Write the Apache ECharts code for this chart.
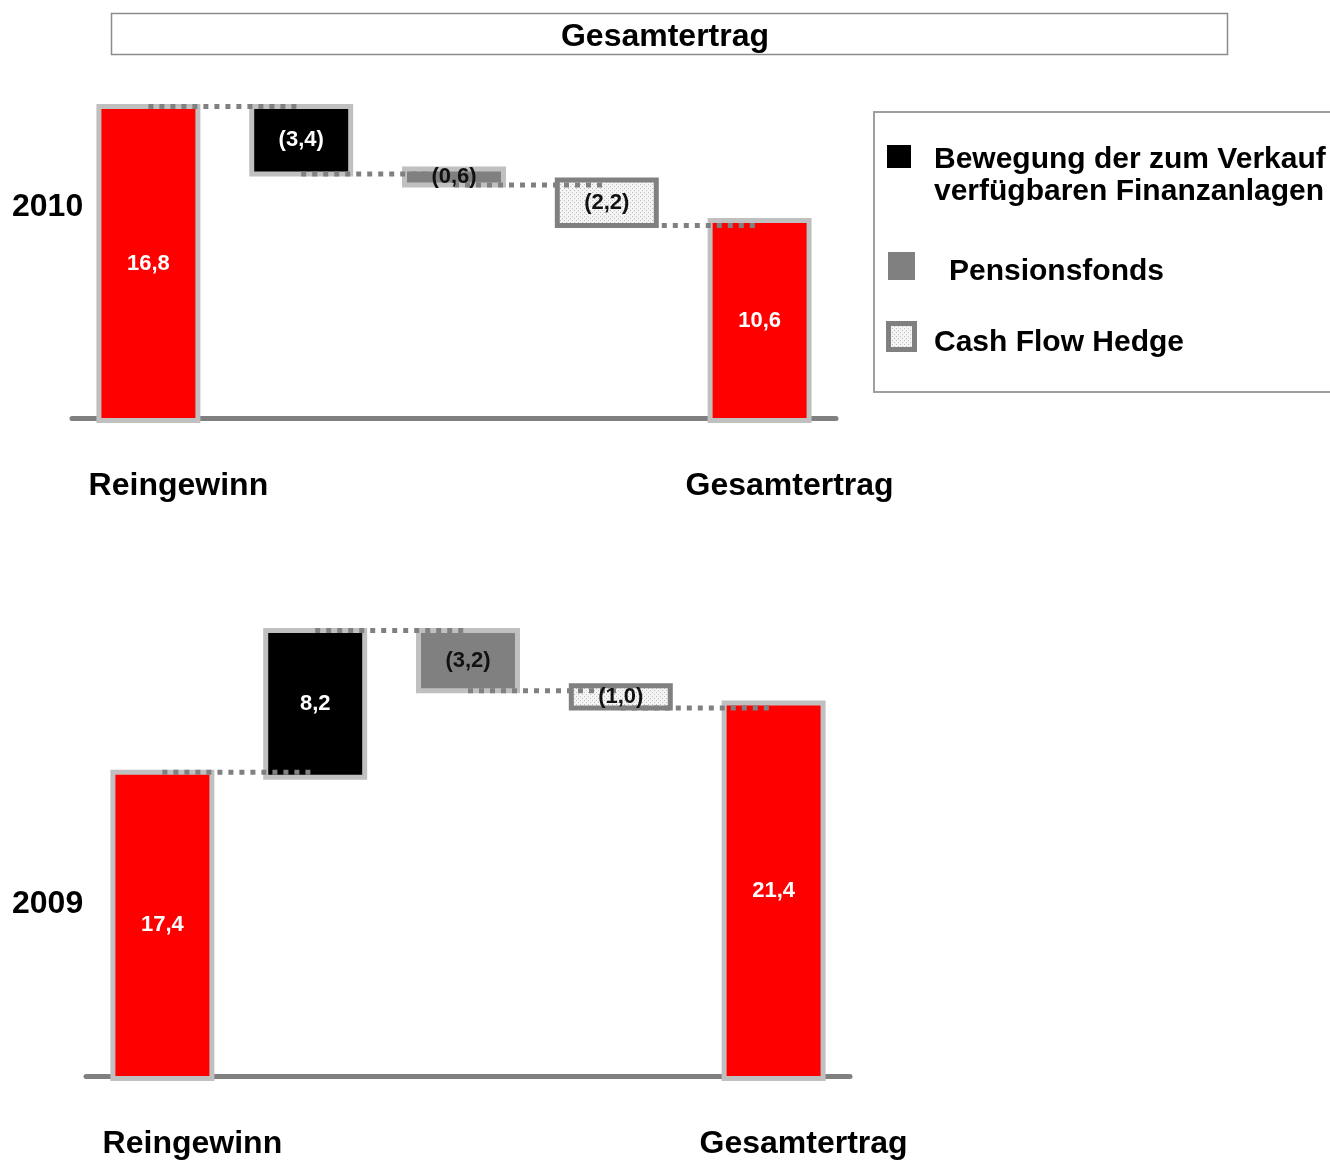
<!DOCTYPE html>
<html>
<head>
<meta charset="utf-8">
<title>Gesamtertrag</title>
<script src="https://cdn.jsdelivr.net/npm/echarts@6/dist/echarts.min.js"></script>
<style>
  html, body { margin: 0; padding: 0; background: #fff; }
  #chart { width: 1330px; height: 1160px; }
</style>
</head>
<body>
<div id="chart"></div>
<script>
// Waterfall categories, shared by both years
const categories = ['Reingewinn', 'Bewegung der zum Verkauf verfügbaren Finanzanlagen', 'Pensionsfonds', 'Cash Flow Hedge', 'Gesamtertrag'];
const kinds = ['total', 'afs', 'pension', 'hedge', 'total'];

// Values in millions (start total, movements, end total)
const years = ['2010', '2009'];
const values2010 = [16.8, -3.4, -0.6, -2.2, 10.6];
const values2009 = [17.4, 8.2, -3.2, -1.0, 21.4];

// Legend entries
const legendLabels = ['Bewegung der zum Verkauf\nverfügbaren Finanzanlagen', 'Pensionsfonds', 'Cash Flow Hedge'];

const FONT = '"Liberation Sans", Arial, Helvetica, sans-serif';

// fine dotted fill used for the cash flow hedge boxes
function dotPattern() {
  const c = document.createElement('canvas');
  c.width = 4; c.height = 4;
  const g = c.getContext('2d');
  g.fillStyle = '#f4f4f4';
  g.fillRect(0, 0, 4, 4);
  g.fillStyle = '#bdbdbd';
  g.fillRect(0, 0, 1, 1);
  g.fillRect(2, 2, 1, 1);
  return c;
}
const hedgeFill = { image: dotPattern(), repeat: 'repeat' };

const STYLES = {
  total:   { fill: '#ff0000', border: '#c0c0c0', text: '#ffffff' },
  afs:     { fill: '#000000', border: '#c0c0c0', text: '#ffffff' },
  pension: { fill: '#808080', border: '#c0c0c0', text: '#111111' },
  hedge:   { fill: hedgeFill, border: '#808080', text: '#111111' }
};

// German number format; negative movements in parentheses
function fmt(v) {
  const s = Math.abs(v).toFixed(1).replace('.', ',');
  return v < 0 ? '(' + s + ')' : s;
}

// [index, low, high, value, level after this step]
function buildRows(values) {
  let run = 0;
  return values.map((v, i) => {
    let start, end;
    if (kinds[i] === 'total') { start = 0; end = v; }
    else { start = run; end = run + v; }
    run = end;
    return [i, Math.min(start, end), Math.max(start, end), v, end];
  });
}

function renderStep(params, api) {
  const i = api.value(0), lo = api.value(1), hi = api.value(2), v = api.value(3), lvl = api.value(4);
  const st = STYLES[kinds[i]];
  const band = api.size([1, 0])[0];
  const w = band * 0.615;
  const b = 5;
  const pTop = api.coord([i, hi]);
  const pBot = api.coord([i, lo]);
  const x = pTop[0] - w / 2, y = pTop[1], h = pBot[1] - pTop[1];
  const children = [
    { type: 'rect', shape: { x: x - b, y: y - b, width: w + 2 * b, height: h + 2 * b }, style: { fill: st.border }, z2: 1 },
    { type: 'rect', shape: { x: x, y: y, width: w, height: h }, style: { fill: st.fill }, z2: 2 }
  ];
  if (i < categories.length - 1) {
    // dotted connector to the next box, on this box's edge
    const off = (lvl === hi) ? -2.5 : 2.5;
    const a = api.coord([i, lvl]);
    const c = api.coord([i + 1, lvl]);
    children.push({
      type: 'line',
      shape: { x1: a[0], y1: a[1] + off, x2: c[0], y2: c[1] + off },
      style: { stroke: '#808080', lineWidth: 5, lineDash: [5, 6] },
      z2: 5
    });
  }
  children.push({
    type: 'text',
    style: {
      text: fmt(v), x: pTop[0], y: y + h / 2, align: 'center', verticalAlign: 'middle',
      fill: st.text, fontSize: 22, fontWeight: 'bold', fontFamily: FONT
    },
    z2: 10
  });
  return { type: 'group', children: children };
}

const axisLabelStyle = {
  fontSize: 32, fontWeight: 'bold', fontFamily: FONT, color: '#000',
  margin: 52, padding: [0, 0, 0, 60],
  formatter: (val, idx) => kinds[idx] === 'total' ? val : ''
};

function xAxisFor(gridIndex) {
  return {
    type: 'category', gridIndex: gridIndex, data: categories,
    axisLine: { show: true, lineStyle: { color: '#808080', width: 5 } },
    axisTick: { show: false },
    axisLabel: Object.assign({ interval: 0 }, axisLabelStyle)
  };
}

const chart = echarts.init(document.getElementById('chart'), null, { renderer: 'canvas' });

const option = {
  backgroundColor: '#ffffff',
  animation: false,
  title: {
    text: 'Gesamtertrag', left: 'center', top: 21, padding: 0,
    textStyle: { fontSize: 32, fontWeight: 'bold', fontFamily: FONT, color: '#000' }
  },
  grid: [
    { left: 72, width: 764, top: 50, bottom: 742 },
    { left: 86, width: 764, top: 626, bottom: 82 }
  ],
  xAxis: [xAxisFor(0), xAxisFor(1)],
  yAxis: [
    { type: 'value', gridIndex: 0, min: 0, max: 20, show: false },
    { type: 'value', gridIndex: 1, min: 0, max: 26, show: false }
  ],
  series: [
    { name: years[0], type: 'custom', xAxisIndex: 0, yAxisIndex: 0, renderItem: renderStep, data: buildRows(values2010), z: 3 },
    { name: years[1], type: 'custom', xAxisIndex: 1, yAxisIndex: 1, renderItem: renderStep, data: buildRows(values2009), z: 3 }
  ],
  graphic: [
    // frame around the heading
    { type: 'rect', shape: { x: 111.5, y: 13.5, width: 1116, height: 41 }, style: { fill: 'none', stroke: '#8c8c8c', lineWidth: 1.5 }, z: 0 },
    // year labels
    { type: 'text', x: 12, y: 207, style: { text: years[0], align: 'left', verticalAlign: 'middle', fontSize: 32, fontWeight: 'bold', fontFamily: FONT, fill: '#000' } },
    { type: 'text', x: 12, y: 904, style: { text: years[1], align: 'left', verticalAlign: 'middle', fontSize: 32, fontWeight: 'bold', fontFamily: FONT, fill: '#000' } },
    // legend
    {
      type: 'group', x: 0, y: 0,
      children: [
        { type: 'rect', shape: { x: 874, y: 112, width: 480, height: 280 }, style: { fill: '#fff', stroke: '#a0a0a0', lineWidth: 2 } },
        { type: 'rect', shape: { x: 887, y: 145, width: 24, height: 23 }, style: { fill: '#000' } },
        { type: 'text', x: 934, y: 176, style: { text: legendLabels[0], align: 'left', verticalAlign: 'middle', lineHeight: 32, fontSize: 30, fontWeight: 'bold', fontFamily: FONT, fill: '#000' } },
        { type: 'rect', shape: { x: 888, y: 252, width: 27, height: 28 }, style: { fill: '#808080' } },
        { type: 'text', x: 949, y: 272, style: { text: legendLabels[1], align: 'left', verticalAlign: 'middle', fontSize: 30, fontWeight: 'bold', fontFamily: FONT, fill: '#000' } },
        { type: 'rect', shape: { x: 886, y: 321, width: 31, height: 31 }, style: { fill: '#808080' } },
        { type: 'rect', shape: { x: 891, y: 326, width: 21, height: 21 }, style: { fill: hedgeFill } },
        { type: 'text', x: 934, y: 343, style: { text: legendLabels[2], align: 'left', verticalAlign: 'middle', fontSize: 30, fontWeight: 'bold', fontFamily: FONT, fill: '#000' } }
      ]
    }
  ]
};

chart.setOption(option);
</script>
</body>
</html>
